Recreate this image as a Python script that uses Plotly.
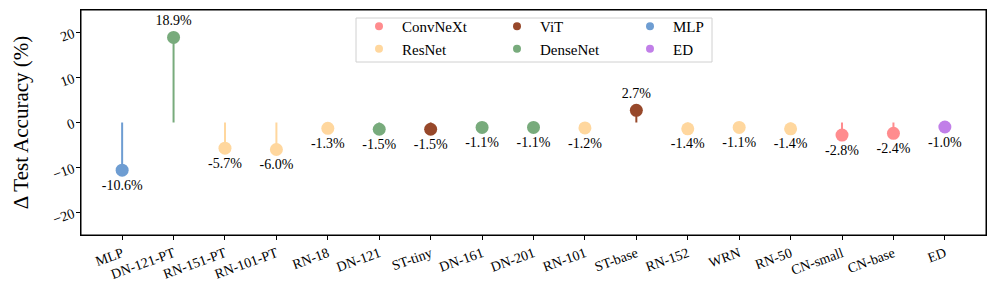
import plotly.graph_objects as go

categories = ["MLP", "DN-121-PT", "RN-151-PT", "RN-101-PT", "RN-18", "DN-121", "ST-tiny",
              "DN-161", "DN-201", "RN-101", "ST-base", "RN-152", "WRN", "RN-50",
              "CN-small", "CN-base", "ED"]
values = [-10.6, 18.9, -5.7, -6.0, -1.3, -1.5, -1.5, -1.1, -1.1, -1.2, 2.7, -1.4, -1.1, -1.4,
          -2.8, -2.4, -1.0]
families = ["MLP", "DenseNet", "ResNet", "ResNet", "ResNet", "DenseNet", "ViT",
            "DenseNet", "DenseNet", "ResNet", "ViT", "ResNet", "ResNet", "ResNet",
            "ConvNeXt", "ConvNeXt", "ED"]
family_colors = {
    "ConvNeXt": "#FF8C8E",
    "ResNet": "#FFD79E",
    "ViT": "#97482A",
    "DenseNet": "#78AB7C",
    "MLP": "#6E9DD2",
    "ED": "#C17FE8",
}
legend_columns = [["ConvNeXt", "ResNet"], ["ViT", "DenseNet"], ["MLP", "ED"]]

FONT = "Liberation Serif, Times New Roman, serif"
fig = go.Figure()

# stems and markers per family
for fam, col in family_colors.items():
    idx = [i for i, f in enumerate(families) if f == fam]
    sx, sy = [], []
    for i in idx:
        sx += [i, i, None]
        sy += [0, values[i], None]
    fig.add_trace(go.Scatter(x=sx, y=sy, mode="lines", line=dict(color=col, width=2),
                             showlegend=False, hoverinfo="skip"))
    fig.add_trace(go.Scatter(
        x=idx, y=[values[i] for i in idx], mode="markers+text",
        marker=dict(color=col, size=13),
        text=[f"{values[i]:.1f}%" for i in idx],
        textposition=["top center" if values[i] > 0 else "bottom center" for i in idx],
        textfont=dict(family=FONT, size=14, color="black"),
        showlegend=False, name=fam))

# legend entries (three columns)
legend_names = ["legend", "legend2", "legend3"]
for li, colfams in enumerate(legend_columns):
    for fam in colfams:
        fig.add_trace(go.Scatter(x=[None], y=[None], mode="markers",
                                 marker=dict(color=family_colors[fam], size=8),
                                 name=fam, legend=legend_names[li], showlegend=True))

W, H = 997, 294
ml, mr, mt, mb = 81, 11, 10, 59
pw, ph = W - ml - mr, H - mt - mb

def px2paper(x, y):
    return (x - ml) / pw, (H - mb - y) / ph

x0, y0 = px2paper(356, 18)
x1, y1 = px2paper(712, 62)
fig.add_shape(type="rect", xref="paper", yref="paper", x0=x0, x1=x1, y0=y1, y1=y0,
              line=dict(color="#D0D0D0", width=1), fillcolor="rgba(255,255,255,0.8)", layer="above")
# plot frame
fig.add_shape(type="rect", xref="paper", yref="paper", x0=0, x1=1, y0=0, y1=1,
              line=dict(color="black", width=1), fillcolor="rgba(0,0,0,0)", layer="above")

leg_common = dict(bgcolor="rgba(0,0,0,0)", borderwidth=0, font=dict(family=FONT, size=15, color="black"),
                  xref="paper", yref="paper", xanchor="left", yanchor="top",
                  tracegroupgap=0, itemwidth=36)
ly = px2paper(0, 10)[1]
fig.update_layout(
    legend=dict(x=px2paper(356, 0)[0], y=ly, **leg_common),
    legend2=dict(x=px2paper(494, 0)[0], y=ly, **leg_common),
    legend3=dict(x=px2paper(627, 0)[0], y=ly, **leg_common),
)

fig.update_layout(
    width=W, height=H,
    margin=dict(l=ml, r=mr, t=mt, b=mb),
    paper_bgcolor="white", plot_bgcolor="white",
    font=dict(family=FONT, size=14, color="black"),
    xaxis=dict(
        tickmode="array", tickvals=list(range(len(categories))), ticktext=categories,
        range=[-0.8, len(categories) - 1 + 0.8], tickangle=-20,
        showgrid=False, zeroline=False, showline=True, linecolor="black", linewidth=1,
        mirror=True, ticks="outside", ticklen=4, tickcolor="black", tickwidth=1,
        tickfont=dict(family=FONT, size=14),
    ),
    yaxis=dict(
        range=[-25, 25], tickvals=[-20, -10, 0, 10, 20], tickangle=-20,
        showgrid=False, zeroline=False, showline=True, linecolor="black", linewidth=1,
        mirror=True, ticks="outside", ticklen=4, tickcolor="black", tickwidth=1,
        tickfont=dict(family=FONT, size=14),
        title=dict(text="Δ Test Accuracy (%)", font=dict(family=FONT, size=21), standoff=16),
    ),
)

fig.write_html("out.html", config={"displayModeBar": False},
               post_script="document.body.style.margin='0px';")
